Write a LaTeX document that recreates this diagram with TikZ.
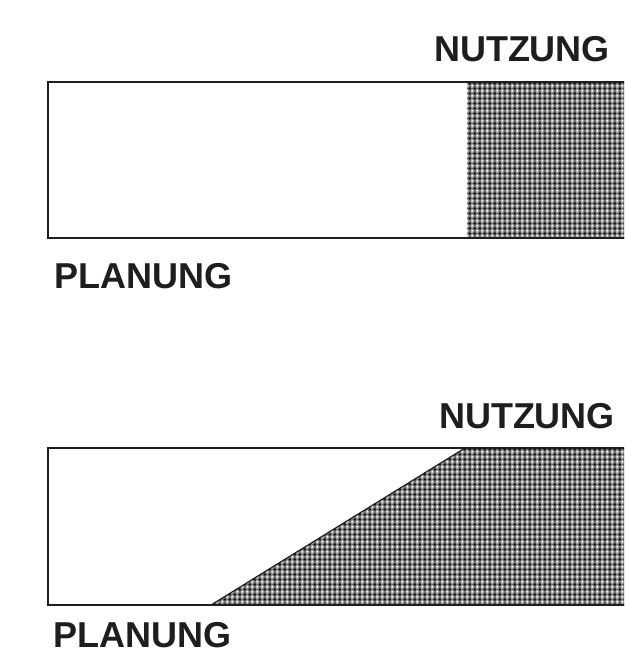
\documentclass[tikz,border=0pt]{standalone}
\usepackage{fontspec}
\setmainfont{Liberation Sans}
\usetikzlibrary{patterns}
\pgfdeclarepatterninherentlycolored{checkdots}{\pgfpointorigin}{\pgfqpoint{5.3pt}{5.3pt}}{\pgfqpoint{5.3pt}{5.3pt}}{%
  \pgfsetfillcolor{black!55}%
  \pgfpathrectangle{\pgfpointorigin}{\pgfqpoint{5.3pt}{5.3pt}}\pgfusepath{fill}%
  \pgfsetfillcolor{white}%
  \pgfpathrectangle{\pgfqpoint{0.3pt}{0.3pt}}{\pgfqpoint{2.3pt}{2.3pt}}\pgfusepath{fill}%
  \pgfsetfillcolor{black}%
  \pgfpathrectangle{\pgfqpoint{2.95pt}{2.95pt}}{\pgfqpoint{2.3pt}{2.3pt}}\pgfusepath{fill}%
}
\definecolor{ink}{HTML}{1E1E1E}
\tikzset{
  lbl/.style={font=\fontsize{36}{40}\selectfont\bfseries, text=ink, inner sep=0pt, anchor=center},
  frame/.style={draw=ink, line width=2.2pt},
  shade/.style={pattern=checkdots}
}
\begin{document}
\begin{tikzpicture}[x=1pt,y=-1pt]
\useasboundingbox (0,0) rectangle (624,655);
\clip (0,0) rectangle (624,655);
% top bar
\fill[white] (48,82) rectangle (630,238);
\fill[shade] (467,82) rectangle (630,238);
\draw[frame] (48,82) rectangle (630,238);
% bottom bar
\fill[white] (48,448) rectangle (630,605);
\fill[shade] (211,605) -- (465,448) -- (630,448) -- (630,605) -- cycle;
\draw[ink, line width=1.2pt] (211,605) -- (465,448);
\draw[frame] (48,448) rectangle (630,605);
% labels
\node[lbl] (nutzTop) at (522,49) {NUTZUNG};
\node[lbl] (planTop) at (143.5,276) {PLANUNG};
\node[lbl] (nutzBot) at (527,416) {NUTZUNG};
\node[lbl] (planBot) at (142.5,635) {PLANUNG};
\end{tikzpicture}
\end{document}
